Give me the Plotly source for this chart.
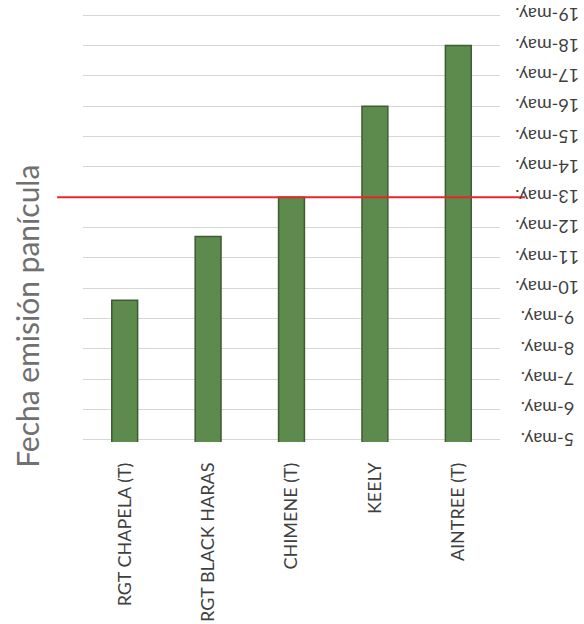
import plotly.graph_objects as go

categories = ["RGT CHAPELA (T)", "RGT BLACK HARAS", "CHIMENE (T)", "KEELY", "AINTREE (T)"]
emission_day = [9.6, 11.7, 13.0, 16.0, 18.0]  # day of May
tick_days = list(range(5, 20))
tick_labels = [f"{d}-may." for d in tick_days]
reference_day = 13
title_text = "Fecha emisión panícula"

fig = go.Figure()
fig.add_trace(go.Bar(
    x=categories, y=emission_day,
    marker=dict(color="#5d8a4d", line=dict(color="#3d5c32", width=1.5)),
    width=0.31,
))

# reference date line
fig.add_shape(type="line", xref="paper", yref="y",
              x0=-0.062, x1=1.06, y0=reference_day, y1=reference_day,
              line=dict(color="#e8262a", width=2))

# upside-down date labels on the right
for d, lab in zip(tick_days, tick_labels):
    fig.add_annotation(text=lab, xref="paper", yref="y", x=1.113, y=d,
                       textangle=180, showarrow=False,
                       xanchor="center", yanchor="middle",
                       font=dict(family="Lato", size=18, color="#3f3f3f"))

fig.add_annotation(text=title_text, xref="paper", yref="paper",
                   x=-0.134, y=0.292, textangle=-90, showarrow=False,
                   xanchor="center", yanchor="middle",
                   font=dict(family="Lato", size=30, color="#707070"))

fig.update_layout(
    width=584, height=624,
    margin=dict(l=83, r=84, t=13, b=182),
    paper_bgcolor="white", plot_bgcolor="white",
    showlegend=False,
    font=dict(family="Lato", color="#3f3f3f"),
    xaxis=dict(tickangle=-90, tickfont=dict(size=18, color="#3f3f3f"),
               showgrid=False, showline=False, ticks="", ticklabelstandoff=16,
               automargin=False),
    yaxis=dict(range=[4.93, 19.07], tickvals=tick_days, showticklabels=False,
               showgrid=True, gridcolor="#d6d6d6", gridwidth=1,
               zeroline=False, showline=False, ticks="", automargin=False),
)

fig.write_html("out.html", config={"displayModeBar": False},
               post_script="document.body.style.margin='0';")
